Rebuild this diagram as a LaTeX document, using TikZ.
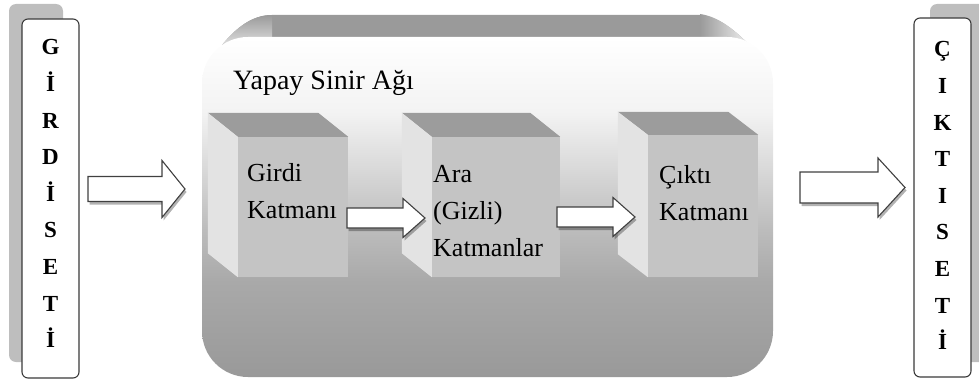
\documentclass[tikz,border=0pt]{standalone}
\usepackage{fontspec}
\setmainfont{Liberation Serif}
\usetikzlibrary{shadows,calc}

\definecolor{sideshade}{HTML}{BEBEBE}
\definecolor{edgecol}{HTML}{3A3A3A}
\definecolor{arrowedge}{HTML}{404040}
\definecolor{bandgray}{HTML}{9A9A9A}
\definecolor{cubetop}{HTML}{9C9C9C}
\definecolor{cubeside}{HTML}{E3E3E3}
\definecolor{cubefront}{HTML}{C4C4C4}
\definecolor{fbot}{HTML}{999999}
\definecolor{fa}{HTML}{A9A9A9}
\definecolor{fb}{HTML}{BDBDBD}
\definecolor{fc}{HTML}{DADADA}
\definecolor{fd}{HTML}{F3F3F3}

% vertical fill of the network panel: light on top, grey at the bottom
\pgfdeclareverticalshading{panelgrad}{100bp}{%
  color(0bp)=(fbot); color(25bp)=(fbot); color(39bp)=(fa);
  color(47bp)=(fb); color(56bp)=(fc); color(64bp)=(fd);
  color(75bp)=(white); color(100bp)=(white)}

\tikzset{
  sidebox/.style={draw=edgecol, line width=1.1pt, fill=white, rounded corners=6pt,
    minimum width=57pt, minimum height=359pt, inner sep=0pt},
  sideshadow/.style={fill=sideshade, rounded corners=7pt},
  letters/.style={inner sep=0pt, anchor=base,
    font=\fontsize{23}{36.6}\selectfont\bfseries},
  blockarr/.style={draw=arrowedge, line width=1.1pt, fill=white, line join=miter,
    drop shadow={shadow xshift=1.5pt, shadow yshift=-3pt, fill=black, opacity=0.3}},
  frontface/.style={fill=cubefront, inner sep=0pt},
  topface/.style={fill=cubetop},
  leftface/.style={fill=cubeside},
  layertext/.style={inner sep=0pt, anchor=base west,
    font=\fontsize{26}{37}\selectfont},
}

% block arrow: start x, head base x, tip x, centre y, shaft half width, head half width
\newcommand\blockarrow[6]{%
  \draw[blockarr] (#1,{#4-#5}) -- (#2,{#4-#5}) -- (#2,{#4-#6}) -- (#3,#4)
    -- (#2,{#4+#6}) -- (#2,{#4+#5}) -- (#1,{#4+#5}) -- cycle;}

\begin{document}
\begin{tikzpicture}[x=1pt,y=-1pt]
\useasboundingbox (0,0) rectangle (979,385);
\clip (0,0) rectangle (979,385);

% ---------- input set ----------
\fill[sideshadow] (9,4) rectangle (63,362);
\node[sidebox] (inset) at (50.5,198.5) {};
\node[letters] (inletters) at (50.5,55)
  {\parbox[t]{40pt}{\centering G\\İ\\R\\D\\İ\\S\\E\\T\\İ}};

% ---------- output set ----------
\fill[sideshadow] (930,4) rectangle (990,362);
\node[sidebox] (outset) at (942.5,197.5) {};
\node[letters] (outletters) at (942.5,57)
  {\parbox[t]{40pt}{\centering Ç\\I\\K\\T\\I\\S\\E\\T\\İ}};

% ---------- network panel ----------
% top face of the panel
\fill[bandgray] (222,45) .. controls (236,28) and (252,15) .. (272,15)
  -- (700,15) .. controls (722,17) and (740,35) .. (757,53) -- (222,53) -- cycle;
\shade[left color=bandgray, right color=white] (700,14) .. controls (722,17) and (740,35) .. (757,53)
  -- (700,53) -- cycle;
\shade[top color=bandgray, bottom color=white!85!bandgray] (222,45) .. controls (236,28) and (252,15) .. (272,15)
  -- (272,53) -- (222,53) -- cycle;
\node[rectangle, rounded corners=46pt, minimum width=571pt, minimum height=340pt,
  inner sep=0pt, shading=panelgrad] (ann) at (487.5,207) {};
\node[inner sep=0pt, anchor=base west, font=\fontsize{28}{30}\selectfont]
  (anntitle) at (233,90) {Yapay Sinir Ağı};

% ---------- layers ----------
\node[frontface, minimum width=110pt, minimum height=140pt] (l1) at (293,207) {};
\fill[topface] (l1.north west) -- (l1.north east) -- ++(-30,-24) -- ($(l1.north west)+(-30,-24)$) -- cycle;
\fill[leftface] (l1.north west) -- ++(-30,-24) -- ($(l1.south west)+(-30,-24)$) -- (l1.south west) -- cycle;

\node[frontface, minimum width=128pt, minimum height=140pt] (l2) at (496,207) {};
\fill[topface] (l2.north west) -- (l2.north east) -- ++(-30,-24) -- ($(l2.north west)+(-30,-24)$) -- cycle;
\fill[leftface] (l2.north west) -- ++(-30,-24) -- ($(l2.south west)+(-30,-24)$) -- (l2.south west) -- cycle;

\node[frontface, minimum width=110pt, minimum height=142pt] (l3) at (703,206) {};
\fill[topface] (l3.north west) -- (l3.north east) -- ++(-30,-23) -- ($(l3.north west)+(-30,-23)$) -- cycle;
\fill[leftface] (l3.north west) -- ++(-30,-23) -- ($(l3.south west)+(-30,-23)$) -- (l3.south west) -- cycle;

\node[layertext] (t1) at (247,181) {\parbox[t]{100pt}{\raggedright Girdi\\Katmanı}};
\node[layertext] (t2) at (433,182) {\parbox[t]{120pt}{\raggedright Ara\\(Gizli)\\Katmanlar}};
\node[layertext] (t3) at (659,183) {\parbox[t]{100pt}{\raggedright Çıktı\\Katmanı}};

% ---------- arrows ----------
\blockarrow{88}{162}{185}{189}{12.5}{28.5}
\blockarrow{347}{403}{425}{218}{10}{19.5}
\blockarrow{557}{613}{635}{217}{10}{19.5}
\blockarrow{800}{878}{905}{187.5}{15.5}{29.5}
\end{tikzpicture}
\end{document}
